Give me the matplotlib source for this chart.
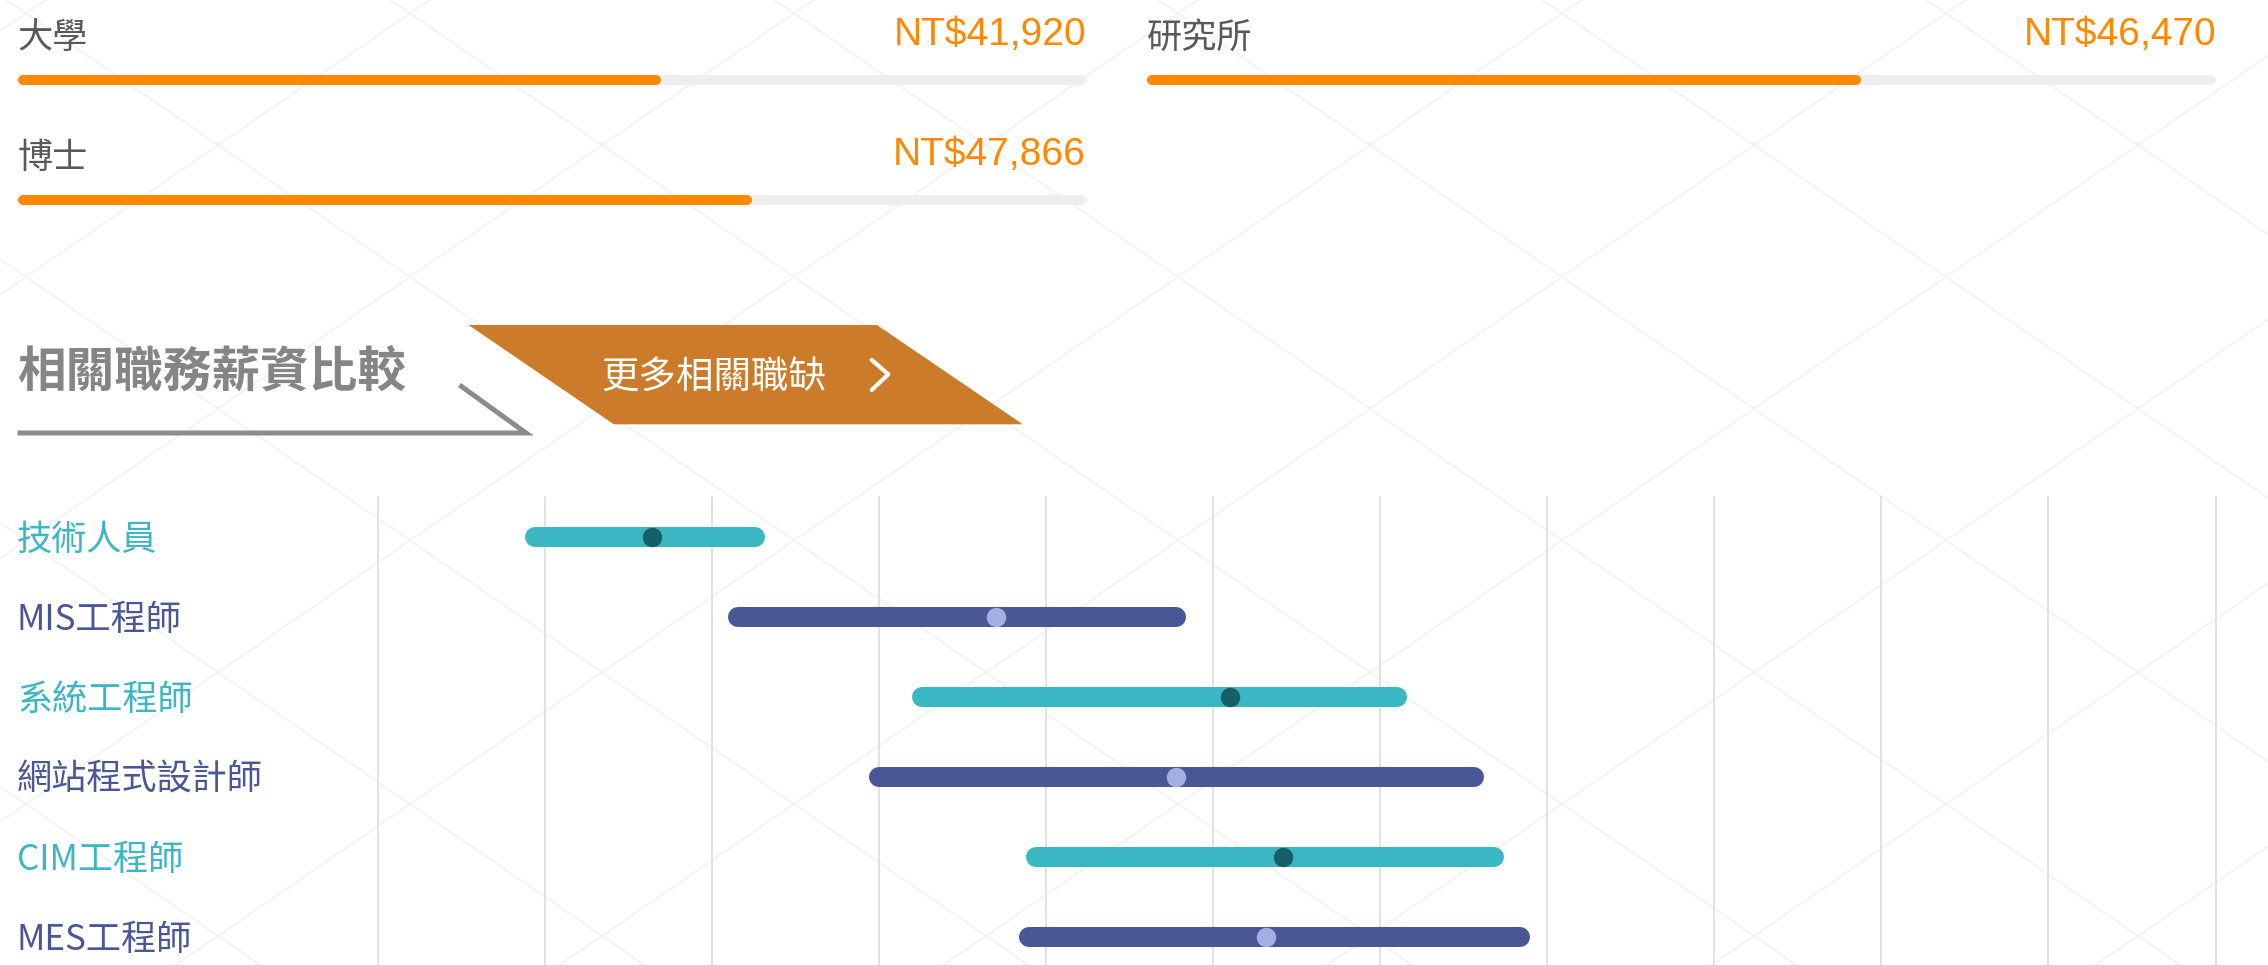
import matplotlib
matplotlib.use('Agg')
import matplotlib.pyplot as plt
from matplotlib.patches import Polygon
from matplotlib import transforms
import numpy as np

plt.rcParams['font.family'] = ['Noto Sans CJK TC', 'DejaVu Sans']

# average salary by education
edu_labels = ['大學', '研究所', '博士']
edu_salary = [41920, 46470, 47866]
edu_scale_max = 69600

# related job salary ranges (low / high / median)
jobs = ['技術人員', 'MIS工程師', '系統工程師', '網站程式設計師', 'CIM工程師', 'MES工程師']
job_low = [24400, 30500, 36000, 34700, 39400, 39200]
job_high = [31600, 44200, 50800, 53100, 53700, 54500]
job_mid = [28200, 38500, 45500, 43900, 47100, 46600]
grid_ticks = list(range(20000, 75001, 5000))

title = '相關職務薪資比較'
button_text = '更多相關職缺'

W, H = 2268, 965
fig = plt.figure(figsize=(W / 100, H / 100), dpi=100)

# pixel coordinate layer for decoration
bg = fig.add_axes([0, 0, 1, 1])
bg.set_xlim(0, W)
bg.set_ylim(H, 0)
bg.axis('off')


def px_axes(x0, y0, x1, y1):
    a = fig.add_axes([x0 / W, 1 - y1 / H, (x1 - x0) / W, (y1 - y0) / H])
    a.patch.set_alpha(0)
    return a


def rounded(ax, a, b, y, thick, color, z=2):
    # round-capped bar, ends inset so the caps stop at a and b
    lo, hi = ax.get_xlim()
    dpp = (hi - lo) / (ax.get_position().width * W)
    r = thick / 2 * dpp
    ax.plot([a + r, b - r], [y, y], color=color, lw=thick * 0.72,
            solid_capstyle='round', clip_on=False, zorder=z)


# faint diamond lattice in the background
s = 131.8 / 192
for m in range(-9, 9):
    xc = 1562 + 384 * m
    xs = np.array([xc - 1700, xc + 1700])
    bg.plot(xs, 13.3 + s * (xs - xc), color='#F3F3F3', lw=1.5, zorder=0)
    bg.plot(xs, 13.3 - s * (xs - xc), color='#F3F3F3', lw=1.5, zorder=0)

# education bars
cols = [(17.5, 1086), (1147, 2216)]
bar_rows = [80, 200]
for i, (lab, val) in enumerate(zip(edu_labels, edu_salary)):
    x0, x1 = cols[i % 2]
    yb = bar_rows[i // 2]
    ax = px_axes(x0, yb - 15, x1, yb + 15)
    ax.set_xlim(0, edu_scale_max)
    ax.set_ylim(-1, 1)
    ax.axis('off')
    rounded(ax, 0, edu_scale_max, 0, 10, '#EEEEEE')
    rounded(ax, 0, val, 0, 10, '#FF8800', z=3)
    bg.text(x0, yb - 42, lab, fontsize=25.3, color='#595959', va='center', ha='left')
    bg.text(x1, yb - 45, f'NT${val:,}', fontsize=28, color='#FF8800',
            va='center', ha='right', family=['Liberation Sans', 'DejaVu Sans'])

# section title + button
bg.text(17.5, 372, title, fontsize=35, weight='bold', color='#858585', va='center', ha='left')
bg.plot([17.5, 526, 459.5], [433, 433, 385], color='#8C8C8C', lw=3.6,
        solid_joinstyle='miter', solid_capstyle='butt')
bg.add_patch(Polygon([(468.6, 325), (876.9, 325), (1022.8, 424.3), (613.8, 424.3)],
                     closed=True, fc='#CB7B29', ec='none', zorder=2))
bg.text(714, 377, button_text, fontsize=27, color='white', ha='center', va='center', zorder=3)
bg.plot([871.7, 888.3, 871.7], [360, 374.3, 390], color='white', lw=3,
        solid_capstyle='round', solid_joinstyle='round', zorder=3)

# salary range chart
ax = px_axes(377.6, 497, 2215.5, 965)
ax.set_xlim(grid_ticks[0], grid_ticks[-1])
ax.set_ylim(5.354, -0.496)
ax.axis('off')
for t in grid_ticks:
    ax.axvline(t, color='#E2E2E2', lw=1.4, clip_on=False, zorder=1)

bar_colors = ['#3BB7C4', '#4A5797']
dot_colors = ['#175F66', '#A4AEE3']
lab_trans = transforms.blended_transform_factory(bg.transData, ax.transData)
for i, job in enumerate(jobs):
    k = i % 2
    rounded(ax, job_low[i], job_high[i], i, 20, bar_colors[k])
    ax.plot(job_mid[i], i, 'o', ms=14, color=dot_colors[k], mec='none', zorder=3)
    ax.text(17, i + 0.04, job, transform=lab_trans, fontsize=25.3, color=bar_colors[k],
            va='center', ha='left')

fig.savefig('out.png', dpi=100, facecolor='white')
